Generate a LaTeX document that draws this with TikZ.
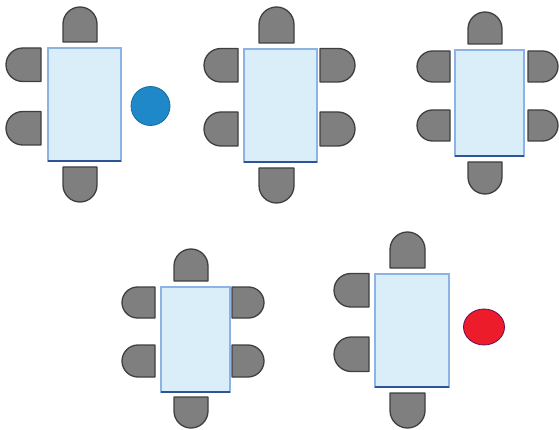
\documentclass[tikz,border=0pt]{standalone}
\definecolor{chairfill}{HTML}{7F7F7F}
\definecolor{chairline}{HTML}{3F3F3F}
\definecolor{tabfill}{HTML}{DAEEF9}
\definecolor{tabline}{HTML}{8DB3E2}
\definecolor{tabedge}{HTML}{2F5496}
\definecolor{dotblue}{HTML}{1E88C8}
\definecolor{dotred}{HTML}{EC1C2A}
\tikzset{
  chair/.style={fill=chairfill,draw=chairline,line width=1.3pt,line join=round},
  tabbox/.style={fill=tabfill,draw=tabline,line width=1.2pt},
  tabfoot/.style={draw=tabedge,line width=2.6pt},
}
% top chair: x1 y1 x2 y2 (rounded at top)
\newcommand\chT[4]{\draw[chair] (#1,#4) -- (#1,{#2+(#3-#1)/2}) arc[start angle=180,end angle=360,radius={(#3-#1)/2}] -- (#3,#4) -- cycle;}
\newcommand\chB[4]{\draw[chair] (#1,#2) -- (#1,{#4-(#3-#1)/2}) arc[start angle=180,end angle=0,radius={(#3-#1)/2}] -- (#3,#2) -- cycle;}
\newcommand\chL[4]{\draw[chair] (#3,#2) -- ({#1+(#4-#2)/2},#2) arc[start angle=270,end angle=90,radius={(#4-#2)/2}] -- (#3,#4) -- cycle;}
\newcommand\chR[4]{\draw[chair] (#1,#2) -- ({#3-(#4-#2)/2},#2) arc[start angle=270,end angle=450,radius={(#4-#2)/2}] -- (#1,#4) -- cycle;}
\newcommand\tab[4]{\draw[tabbox] (#1,#2) rectangle (#3,#4); \draw[tabfoot] (#1,#4) -- (#3,#4);}
\begin{document}
\begin{tikzpicture}[x=1pt,y=-1pt]
\useasboundingbox (0,0) rectangle (559,430);
% table 1
\chT{63}{7}{97}{42}
\chL{6}{48}{41}{81.5}
\chL{6}{111.5}{41}{145}
\chB{63}{167}{97}{202}
\tab{48}{48}{121}{161}
\draw[fill=dotblue,draw=dotblue!80!black,line width=0.8pt] (150.5,106) circle[radius=19.5];
% table 2
\chT{259}{7}{294}{43}
\chL{204}{48.5}{238}{82}
\chL{204}{112}{238}{146}
\chR{320}{48.5}{355}{82}
\chR{320}{112}{355}{146}
\chB{259}{168}{294}{203}
\tab{244}{49}{317}{162}
% table 3
\chT{468}{12}{502}{44}
\chL{417}{51}{450}{82}
\chL{417}{110}{450}{141}
\chR{528}{51}{558}{82}
\chR{528}{110}{558}{141}
\chB{468}{162}{502}{194}
\tab{455}{50}{524}{156}
% table 4
\chT{174}{249}{208}{281}
\chL{122}{287}{155}{318}
\chL{122}{345}{155}{377}
\chR{232}{287}{264}{318}
\chR{232}{345}{264}{377}
\chB{174}{397}{208}{428}
\tab{161}{287}{230}{392}
% table 5
\chT{390}{232}{425}{268}
\chL{334}{273.5}{369}{307}
\chL{334}{337}{369}{371.5}
\chB{390}{393}{425}{428}
\tab{375}{274}{449}{387}
\draw[fill=dotred,draw=blue!40!dotred!70!black,line width=0.8pt] (484,327) ellipse[x radius=20.5,y radius=18];
\end{tikzpicture}
\end{document}
